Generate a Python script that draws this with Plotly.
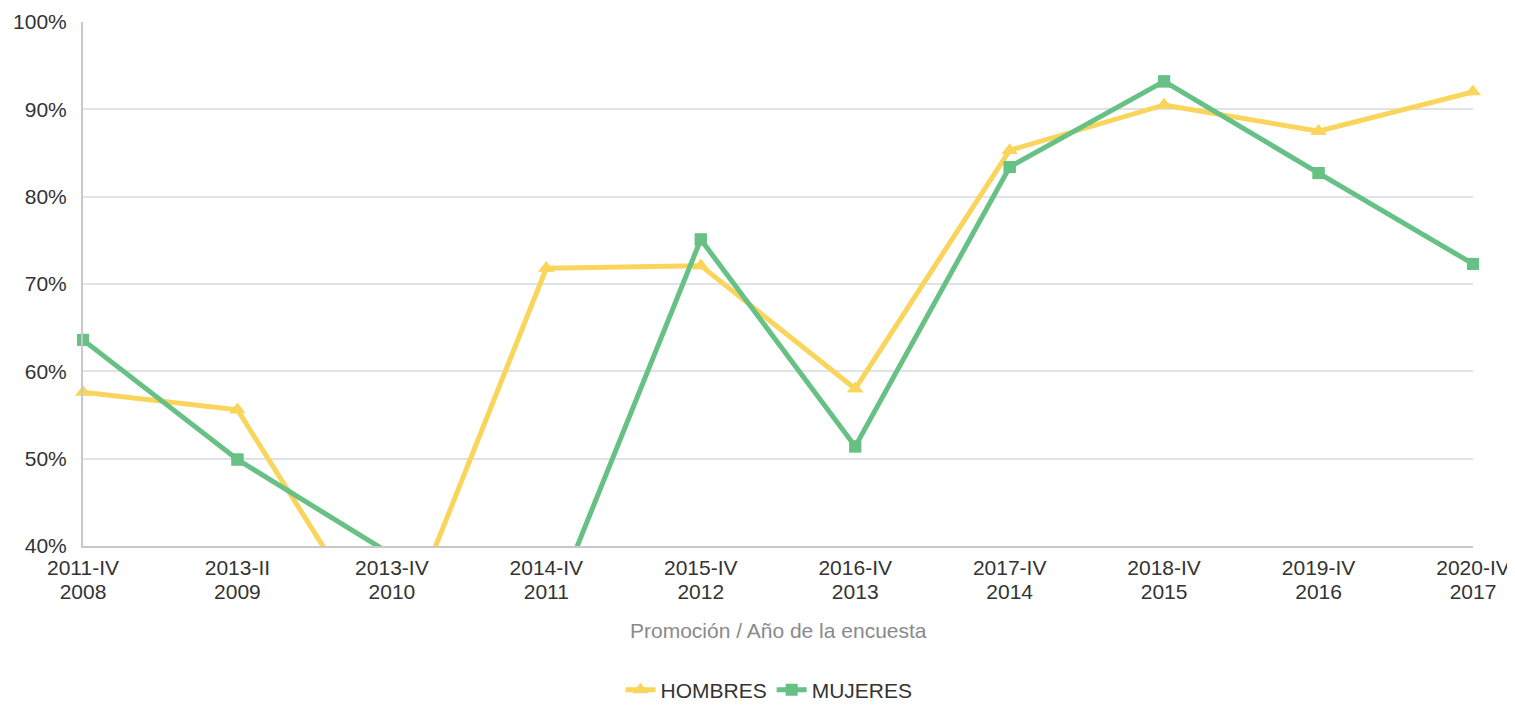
import plotly.graph_objects as go

promociones = ["2011-IV", "2013-II", "2013-IV", "2014-IV", "2015-IV",
               "2016-IV", "2017-IV", "2018-IV", "2019-IV", "2020-IV"]
anios = ["2008", "2009", "2010", "2011", "2012", "2013", "2014", "2015", "2016", "2017"]
hombres = [57.6, 55.6, 27.4, 71.8, 72.1, 58.0, 85.3, 90.5, 87.5, 92.0]
mujeres = [63.6, 49.9, 39.0, 31.2, 75.1, 51.4, 83.4, 93.2, 82.7, 72.3]
y_ticks = [40, 50, 60, 70, 80, 90, 100]
y_min, y_max = 40, 100

YELLOW = "#F9D55B"
GREEN = "#67C184"
FONT = "Liberation Sans, Arial, sans-serif"
FS = 21

x_idx = list(range(len(promociones)))

fig = go.Figure()
series = [("HOMBRES", hombres, YELLOW, "triangle-up", 14), ("MUJERES", mujeres, GREEN, "square", 12)]
for name, vals, color, sym, size in series:
    fig.add_trace(go.Scatter(
        x=x_idx, y=vals, name=name, mode="lines+markers",
        line=dict(color=color, width=5),
        marker=dict(symbol=sym, size=size, color=color),
        cliponaxis=True,
    ))
# markers of in-range points, drawn unclipped (second x axis carries the year labels)
for name, vals, color, sym, size in series:
    vis = [v if y_min <= v <= y_max else None for v in vals]
    fig.add_trace(go.Scatter(
        x=x_idx, y=vis, mode="markers", showlegend=False, hoverinfo="skip",
        marker=dict(symbol=sym, size=size, color=color),
        cliponaxis=False, xaxis="x2",
    ))

xr = [0, len(promociones) - 1]
fig.update_layout(
    width=1507, height=703,
    margin=dict(l=75, r=42, t=14, b=165, autoexpand=False),
    paper_bgcolor="white", plot_bgcolor="white",
    font=dict(family=FONT, size=FS, color="#333333"),
    showlegend=True,
    legend=dict(orientation="h", x=0.4935, xanchor="center", y=-0.275, yanchor="middle",
                font=dict(size=FS, color="#333333"), traceorder="normal"),
    xaxis=dict(
        range=xr, tickmode="array", tickvals=x_idx, ticktext=promociones,
        showgrid=False, zeroline=False, showline=True, linecolor="#c8c8c8", linewidth=2,
        ticks="", tickfont=dict(size=FS, color="#333333"), automargin=False,
        ticklabelstandoff=2,
    ),
    xaxis2=dict(
        range=xr, overlaying="x", anchor="y", side="bottom",
        tickmode="array", tickvals=x_idx, ticktext=anios,
        showgrid=False, zeroline=False, showline=False, ticks="",
        tickfont=dict(size=FS, color="#333333"), automargin=False,
        ticklabelstandoff=31,
    ),
    yaxis=dict(
        range=[y_min, y_max], tickmode="array", tickvals=y_ticks,
        ticktext=[f"{v}%" for v in y_ticks],
        showgrid=True, gridcolor="#dfe2e6", gridwidth=1.5, zeroline=False,
        showline=True, linecolor="#c8c8c8", linewidth=2, ticks="",
        tickfont=dict(size=FS, color="#333333"), automargin=False,
        ticklabelstandoff=10,
    ),
    annotations=[dict(text="Promoción / Año de la encuesta", xref="paper", yref="paper",
                      x=0.5, y=-0.162, xanchor="center", yanchor="middle", showarrow=False,
                      font=dict(size=FS, color="#8a8a8a"))],
)

fig.write_html("out.html")
